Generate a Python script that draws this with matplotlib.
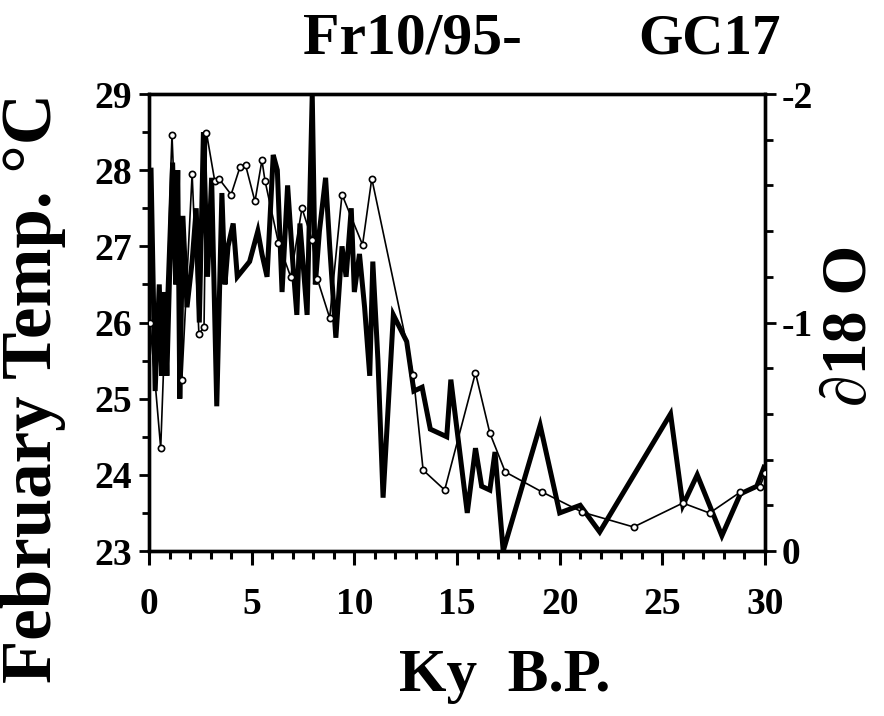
import numpy as np
import matplotlib
matplotlib.use("Agg")
import matplotlib.pyplot as plt
from matplotlib.ticker import MultipleLocator, FixedLocator

# February temperature (thick line, left axis)
temp_age = [0.1, 0.3, 0.5, 0.62, 0.75, 0.87, 1.15, 1.3, 1.4, 1.5, 1.65, 1.85,
            2.1, 2.3, 2.45, 2.65, 2.85, 3.05, 3.3, 3.55, 3.7, 3.85, 4.1, 4.3,
            4.6, 4.9, 5.3, 5.5, 5.75, 6.05, 6.25, 6.48, 6.75, 7.0, 7.2, 7.35,
            7.7, 7.95, 8.1, 8.3, 8.6, 8.8, 9.1, 9.4, 9.6, 9.85, 10.0, 10.25,
            10.5, 10.75, 10.9, 11.15, 11.4, 11.9, 12.55, 12.9, 13.3, 13.7,
            14.5, 14.7, 15.5, 15.9, 16.2, 16.6, 16.85, 17.25, 19.05, 20.0,
            21.0, 21.95, 25.4, 26.0, 26.7, 27.9, 28.8, 29.6, 29.95]
temp_val = [28.0, 25.1, 26.5, 25.3, 26.4, 25.3, 28.1, 26.5, 28.0, 25.0, 27.4, 26.2,
            26.8, 27.5, 26.0, 28.5, 26.6, 27.9, 24.9, 27.7, 26.5, 27.0, 27.3, 26.6,
            26.7, 26.8, 27.2, 26.9, 26.6, 28.2, 28.0, 26.4, 27.8, 26.8, 26.1, 27.3,
            26.1, 29.0, 26.5, 27.2, 27.9, 27.0, 25.8, 27.0, 26.6, 27.5, 26.4, 26.9,
            26.2, 25.3, 26.8, 25.5, 23.7, 26.1, 25.75, 25.1, 25.15, 24.6,
            24.5, 25.25, 23.5, 24.35, 23.85, 23.8, 24.3, 23.0, 24.65, 23.5,
            23.6, 23.25, 24.8, 23.6, 24.0, 23.2, 23.75, 23.85, 24.1]

# delta 18O (thin line with circles, right axis)
d18o_age = [0.05, 0.57, 1.12, 1.6, 2.1, 2.43, 2.68, 2.8, 3.2, 3.4, 4.0, 4.43,
            4.7, 5.16, 5.5, 5.65, 6.3, 6.9, 7.45, 7.95, 8.2, 8.8, 9.4, 10.4,
            10.85, 12.87, 13.35, 14.4, 15.9, 16.6, 17.35, 19.15, 21.1, 23.6,
            26.0, 27.3, 28.8, 29.75, 30.0]
d18o_val = [-1.0, -0.45, -1.82, -0.75, -1.65, -0.95, -0.98, -1.83, -1.62, -1.63, -1.56, -1.68,
            -1.69, -1.53, -1.71, -1.62, -1.35, -1.2, -1.5, -1.36, -1.19, -1.02, -1.56, -1.34,
            -1.63, -0.77, -0.354, -0.267, -0.78, -0.516, -0.346, -0.258, -0.17, -0.105,
            -0.21, -0.166, -0.258, -0.28, -0.34]

x_ticks = [0, 5, 10, 15, 20, 25, 30]
left_ticks = [23, 24, 25, 26, 27, 28, 29]
right_ticks = [-2, -1, 0]

FONT = "Liberation Serif"


def main():
    plt.rcParams['font.family'] = FONT
    plt.rcParams['font.weight'] = 'bold'

    fig = plt.figure(figsize=(8.84, 7.16), dpi=100)
    ax = fig.add_axes([149 / 884, 1 - 551 / 716, (765 - 149) / 884, (551 - 94) / 716])
    ax2 = ax.twinx()

    ax.plot(temp_age, temp_val, color='black', lw=3.6, solid_joinstyle='miter', zorder=3)
    ax2.plot(d18o_age, d18o_val, color='black', lw=1.2, marker='o', ms=4.5,
             mfc='white', mec='black', mew=1.2, zorder=4)

    ax.set_xlim(0, 30)
    ax.set_ylim(23, 29)
    ax2.set_ylim(0, -2)

    ax.xaxis.set_major_locator(FixedLocator(x_ticks))
    ax.xaxis.set_minor_locator(MultipleLocator(1))
    ax.yaxis.set_major_locator(FixedLocator(left_ticks))
    ax.yaxis.set_minor_locator(MultipleLocator(0.5))
    ax2.yaxis.set_major_locator(FixedLocator(right_ticks))
    ax2.yaxis.set_minor_locator(MultipleLocator(0.2))

    ax.tick_params(axis='x', which='major', direction='out', length=10, width=2.2,
                   labelsize=27, pad=16)
    ax.tick_params(axis='x', which='minor', direction='out', length=6, width=2.2)
    ax.tick_params(axis='y', which='major', direction='out', length=7, width=2,
                   labelsize=27, pad=5)
    ax.tick_params(axis='y', which='minor', direction='out', length=5, width=2)
    ax2.tick_params(axis='y', which='major', direction='out', length=8, width=2,
                    labelsize=27, pad=4)
    ax2.tick_params(axis='y', which='minor', direction='out', length=6, width=2)

    for a in (ax, ax2):
        for s in a.spines.values():
            s.set_linewidth(2.4)

    ax.set_xticklabels([str(v) for v in x_ticks])
    ax.set_yticklabels([str(v) for v in left_ticks])
    ax2.set_yticklabels(['-2', '-1', '0'])

    fig.text(522 / 884, 1 - 40 / 716, 'Fr10/95-', ha='right', va='center',
             fontsize=43, fontweight='bold')
    fig.text(638 / 884, 1 - 40 / 716, 'GC17', ha='left', va='center',
             fontsize=41, fontweight='bold')
    fig.text(505 / 884, 1 - 676 / 716, 'Ky  B.P.', ha='center', va='center',
             fontsize=44, fontweight='bold')
    fig.text(34 / 884, 1 - 388 / 716, 'February Temp. °C', rotation=90,
             ha='center', va='center', fontsize=51, fontweight='bold')
    fig.text(851 / 884, 1 - 325 / 716, '∂18 O', rotation=90,
             ha='center', va='center', fontsize=46, fontweight='bold')

    fig.savefig('out.png', dpi=100)


if __name__ == "__main__":
    main()
